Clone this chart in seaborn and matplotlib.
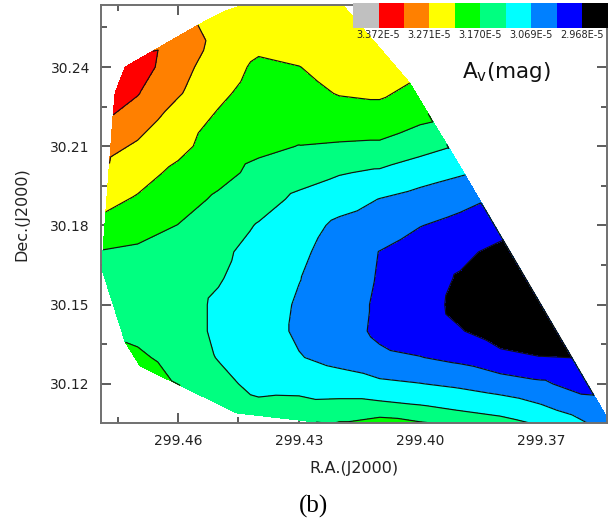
import numpy as np
import pandas as pd
import matplotlib
matplotlib.use("Agg")
import matplotlib.pyplot as plt
import matplotlib.tri as mtri
from matplotlib.ticker import MultipleLocator, FixedLocator
import seaborn as sns

# Extinction map A_v sampled on a 0.01 deg grid (values in units of 1e-5 mag).
# NaN marks grid nodes with no sources.
nan = np.nan
ra_nodes = [299.47, 299.46, 299.45, 299.44, 299.43, 299.42,
            299.41, 299.40, 299.39, 299.38, 299.37, 299.36]
dec_nodes = [30.26, 30.25, 30.24, 30.23, 30.22, 30.21, 30.20, 30.19,
             30.18, 30.17, 30.16, 30.15, 30.14, 30.13, 30.12, 30.11]
av_rows = [
    [nan, nan, nan, 3.2508, 3.2559, 3.2584, nan, nan, nan, nan, nan, nan],
    [nan, 3.2937, 3.2609, 3.2357, 3.2432, 3.2508, nan, nan, nan, nan, nan, nan],
    [3.3468, 3.2886, 3.2458, 3.2104, 3.2195, 3.2382, 3.2407, nan, nan, nan, nan, nan],
    [3.3240, 3.2761, 3.2306, 3.2003, 3.2054, 3.2230, 3.2281, nan, nan, nan, nan, nan],
    [3.2963, 3.2458, 3.2129, 3.1953, 3.1877, 3.1953, 3.1953, 3.1776, nan, nan, nan, nan],
    [3.2634, 3.2357, 3.1953, 3.1801, 3.1690, 3.1650, 3.1624, 3.1372, nan, nan, nan, nan],
    [3.2407, 3.2079, 3.1852, 3.1574, 3.1397, 3.1230, 3.1119, 3.0917, nan, nan, nan, nan],
    [3.2155, 3.1902, 3.1624, 3.1397, 3.1094, 3.0892, 3.0680, 3.0513, 3.0337, nan, nan, nan],
    [3.1877, 3.1690, 3.1448, 3.1160, 3.0892, 3.0589, 3.0438, 3.0200, 3.0034, nan, nan, nan],
    [3.1624, 3.1448, 3.1321, 3.0993, 3.0791, 3.0463, 3.0175, 2.9958, 2.9806, 2.9529, nan, nan],
    [3.1498, 3.1422, 3.1235, 3.0943, 3.0705, 3.0438, 3.0150, 2.9907, 2.9630, 2.9327, nan, nan],
    [3.1498, 3.1397, 3.1119, 3.0917, 3.0640, 3.0412, 3.0109, 2.9882, 2.9554, 2.9327, nan, nan],
    [3.1549, 3.1397, 3.1119, 3.0917, 3.0614, 3.0412, 3.0084, 2.9907, 2.9705, 2.9478, 2.9478, nan],
    [3.1801, 3.1498, 3.1170, 3.0943, 3.0715, 3.0539, 3.0286, 3.0200, 3.0059, 2.9781, 2.9690, nan],
    [nan, nan, 3.1347, 3.1044, 3.1028, 3.0907, 3.0791, 3.0705, 3.0589, 3.0438, 3.0271, 2.9983],
    [nan, nan, nan, 3.1347, 3.1397, 3.1422, 3.1422, 3.1321, 3.1185, 3.1044, 3.0816, 3.0503],
]

# Sources on the outer edge of the surveyed field
edge_ra = [299.4731, 299.4756, 299.4761, 299.4767, 299.4769, 299.4779, 299.4786,
           299.4788, 299.4731, 299.4694, 299.4615, 299.4454, 299.4248, 299.4198,
           299.4099, 299.4000, 299.3802, 299.3678, 299.3524, 299.3569, 299.3623,
           299.3663, 299.3702, 299.3752, 299.3794, 299.3849, 299.3888, 299.3931,
           299.3968, 299.4025, 299.4198, 299.4298, 299.4422, 299.4484, 299.4550,
           299.4650]
edge_dec = [30.2400, 30.2302, 30.2218, 30.2059, 30.1953, 30.1851, 30.1707,
            30.1632, 30.1359, 30.1268, 30.1211, 30.1090, 30.1056, 30.1045,
            30.1045, 30.1045, 30.1041, 30.1041, 30.1041, 30.1158, 30.1298,
            30.1401, 30.1503, 30.1632, 30.1745, 30.1885, 30.1991, 30.2093,
            30.2192, 30.2339, 30.2646, 30.2646, 30.2642, 30.2612, 30.2559,
            30.2464]
edge_av = [3.3518, 3.3392, 3.3213, 3.2708, 3.2458, 3.2203, 3.1698,
           3.1549, 3.1698, 3.1877, 3.1698, 3.1448, 3.1599, 3.1776,
           3.2003, 3.1801, 3.1448, 3.1145, 3.0488, 3.0183, 2.9682,
           2.9478, 2.9352, 2.9402, 2.9682, 3.0183, 3.0688, 3.1193,
           3.1698, 3.2203, 3.2609, 3.2584, 3.2533, 3.2609, 3.2708,
           3.3217]

# Contour levels (1e-5 mag) and the band colours, lowest band first
levels = [2.9175, 2.968, 3.0185, 3.069, 3.1195, 3.170,
          3.2205, 3.271, 3.3215, 3.372, 3.4225]
band_colors = ["#000000", "#0000FF", "#0080FF", "#00FFFF", "#00FF80",
               "#00FF00", "#FFFF00", "#FF8000", "#FF0000", "#C0C0C0"]
legend_ticks = [3.372, 3.271, 3.170, 3.069, 2.968]

ra_major = [299.46, 299.43, 299.40, 299.37]
dec_major = [30.12, 30.15, 30.18, 30.21, 30.24]

# ---- long-form table of all sampled points ----
grid = pd.DataFrame(av_rows, index=dec_nodes, columns=ra_nodes)
grid_long = (grid.stack(future_stack=True).rename("av").reset_index()
             .rename(columns={"level_0": "dec", "level_1": "ra"}).dropna())
edges = pd.DataFrame({"ra": edge_ra, "dec": edge_dec, "av": edge_av})
pts = pd.concat([grid_long, edges], ignore_index=True)

sns.set_theme(style="ticks")
plt.rcParams["font.family"] = ["DejaVu Sans"]
plt.rcParams["mathtext.fontset"] = "dejavusans"

fig = plt.figure(figsize=(6.09, 5.22), dpi=100)
ax = fig.add_axes([101 / 609, 1 - 423 / 522, 506 / 609, 418 / 522])

tri = mtri.Triangulation(pts["ra"].to_numpy(), pts["dec"].to_numpy())
cf = ax.tricontourf(tri, pts["av"].to_numpy(), levels=levels, colors=band_colors)
ax.tricontour(tri, pts["av"].to_numpy(), levels=levels[1:-1],
              colors="#111111", linewidths=0.85)

ax.set_xlim(299.4791, 299.3536)
ax.set_ylim(30.1052, 30.2635)
ax.set_facecolor("white")

ax.xaxis.set_major_locator(FixedLocator(ra_major))
ax.xaxis.set_minor_locator(MultipleLocator(0.015))
ax.yaxis.set_major_locator(FixedLocator(dec_major))
ax.yaxis.set_minor_locator(MultipleLocator(0.015))
ax.xaxis.set_major_formatter(plt.FuncFormatter(lambda v, p: f"{v:.2f}"))
ax.yaxis.set_major_formatter(plt.FuncFormatter(lambda v, p: f"{v:.2f}"))

ax.tick_params(which="both", direction="in", top=True, right=True,
               color="#303030", width=1.1)
ax.tick_params(which="major", length=7, labelsize=10, labelcolor="#222222")
ax.tick_params(axis="x", which="major", pad=8)
ax.tick_params(axis="y", which="major", pad=8)
ax.tick_params(which="minor", length=4)
for s in ax.spines.values():
    s.set_color("#707070")
    s.set_linewidth(1.4)

ax.set_xlabel("R.A.(J2000)", fontsize=11.5, color="#222222", labelpad=9)
ax.set_ylabel("Dec.(J2000)", fontsize=11.5, color="#222222", labelpad=15)

ax.text(0.7134, 0.8254, r"A$_\mathregular{v}$(mag)", transform=ax.transAxes,
        fontsize=15.5, color="#111111", va="baseline", ha="left")

# Colour key along the top edge, highest band on the left
cax = fig.add_axes([353 / 609, 1 - 28 / 522, 255 / 609, 25 / 522])
cb = fig.colorbar(cf, cax=cax, orientation="horizontal", ticks=legend_ticks)
cb.outline.set_visible(False)
cax.invert_xaxis()
cax.xaxis.set_major_formatter(plt.FuncFormatter(lambda v, p: f"{v:.3f}E-5"))
cax.tick_params(axis="x", length=0, pad=1.5, labelsize=7, labelcolor="#222222")
cax.xaxis.set_minor_locator(FixedLocator([]))

fig.text(313 / 609, 1 - 506 / 522, "(b)", family=["Liberation Serif"],
         fontsize=18, ha="center", va="center", color="black")

fig.savefig("out.png", dpi=100, facecolor="white")
